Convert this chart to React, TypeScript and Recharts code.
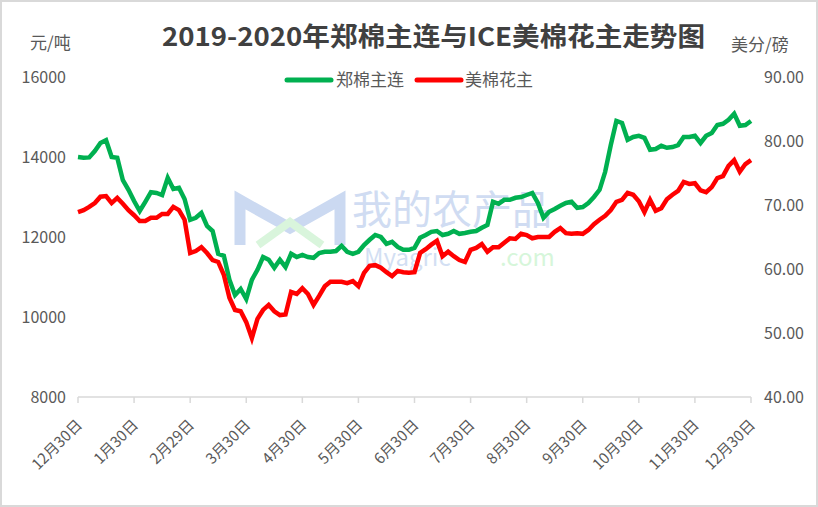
import React from 'react';
import { LineChart, Line, XAxis, YAxis } from 'recharts';

// tick labels (one every 10 points)
const monthLabels = [
  '12月30日', '1月30日', '2月29日', '3月30日', '4月30日', '5月30日', '6月30日',
  '7月30日', '8月30日', '9月30日', '10月30日', '11月30日', '12月30日',
];
const tickIndex = [0, 10, 20, 30, 40, 50, 60, 70, 80, 90, 100, 110, 120];

// 郑棉主连 (元/吨)
const zzValues = [
  14000, 13980, 13990, 14150, 14350, 14420, 14000, 13980, 13420, 13180,
  12900, 12650, 12880, 13120, 13100, 13050, 13480, 13200, 13230, 12950,
  12430, 12480, 12600, 12280, 12150, 11580, 11530, 10930, 10550, 10700,
  10450, 10930, 11180, 11500, 11430, 11230, 11430, 11250, 11580, 11500,
  11550, 11500, 11480, 11600, 11630, 11630, 11650, 11780, 11630, 11580,
  11630, 11800, 11930, 12050, 12000, 11830, 11880, 11750, 11680, 11680,
  11730, 11980, 12050, 12130, 12150, 12050, 12080, 12150, 12080, 12100,
  12130, 12150, 12230, 12300, 12880, 12830, 12930, 12930, 12980, 13000,
  13050, 13100, 12850, 12480, 12630, 12700, 12780, 12850, 12880, 12730,
  12750, 12850, 13000, 13180, 13630, 14300, 14900, 14850, 14430, 14500,
  14530, 14480, 14180, 14200, 14280, 14230, 14250, 14300, 14500, 14500,
  14530, 14350, 14530, 14600, 14800, 14830, 14930, 15080, 14780, 14800,
  14900,
];

// 美棉花主 (美分/磅)
const iceValues = [
  68.9, 69.2, 69.7, 70.3, 71.3, 71.4, 70.3, 71.1, 70.2, 69.2,
  68.4, 67.5, 67.5, 68.0, 68.0, 68.6, 68.6, 69.7, 69.2, 67.7,
  62.5, 62.8, 63.4, 62.5, 61.4, 61.1, 59.1, 55.5, 53.6, 53.4,
  51.7, 49.2, 52.2, 53.6, 54.4, 53.4, 52.8, 52.9, 56.4, 56.1,
  57.0, 56.1, 54.4, 55.8, 57.3, 58.0, 58.0, 58.0, 57.8, 58.1,
  57.3, 59.4, 60.5, 60.6, 60.2, 59.5, 58.9, 59.7, 59.5, 59.4,
  59.5, 62.5, 63.1, 63.8, 64.4, 62.0, 62.7, 62.0, 61.4, 61.1,
  63.0, 63.3, 63.9, 62.7, 63.4, 63.4, 64.1, 64.8, 64.7, 65.5,
  65.3, 64.8, 65.0, 65.0, 65.0, 65.8, 66.4, 65.6, 65.5, 65.6,
  65.5, 66.1, 67.0, 67.7, 68.3, 69.2, 70.5, 70.8, 71.9, 71.6,
  70.6, 68.9, 70.8, 69.1, 69.5, 70.9, 71.6, 72.2, 73.6, 73.3,
  73.4, 72.3, 72.0, 72.8, 74.2, 74.5, 76.1, 77.0, 75.2, 76.4,
  77.0,
];

const leftTicks = [8000, 10000, 12000, 14000, 16000];
const rightTicks = [40, 50, 60, 70, 80, 90];

const data = zzValues.map((v, i) => ({ i, zz: v, ice: iceValues[i] }));

const FONT = '"Noto Sans CJK SC", "Noto Sans", sans-serif';
const TEXT = '#595959';

const DateTick = (props: any) => {
  const { x, y, payload } = props;
  const label = monthLabels[Math.round(payload.value / 10)];
  return (
    <g transform={`translate(${x + 5},${y + 21})`}>
      <text textAnchor="end" transform="rotate(-45)" fill={TEXT} fontSize={15} fontFamily={FONT}>
        {label}
      </text>
    </g>
  );
};

// faint site watermark behind the lines
const Watermark = () => (
  <svg width={818} height={507} style={{ position: 'absolute', left: 0, top: 0 }}>
    <polyline points="240,245 240,200 290,228 340,200 340,245" fill="none" stroke="#cbd9f1" strokeWidth={11} />
    <polyline points="258,245 290,222 322,245" fill="none" stroke="#d9f5dc" strokeWidth={8} />
    <text x={352} y={224} fontSize={40} fill="#d0dcf2" fontFamily={FONT}>我的农产品</text>
    <text x={364} y={266} fontSize={24} fill="#d3dff3" fontFamily={FONT}>Myagric</text>
    <text x={500} y={266} fontSize={24} fill="#d6f6da" fontFamily={FONT}>.com</text>
  </svg>
);

export default function App() {
  return (
    <div style={{ position: 'absolute', left: 0, top: 0, width: 818, height: 507, background: '#fff', fontFamily: FONT }}>
      <Watermark />
      <div style={{ position: 'absolute', left: 0, top: 0 }}>
        <LineChart width={818} height={507} data={data} margin={{ top: 77, right: 7, bottom: 50, left: 18 }}>
          <XAxis
            dataKey="i"
            type="number"
            domain={[0, 120]}
            ticks={tickIndex}
            interval={0}
            tick={<DateTick />}
            height={60}
            stroke="#d9d9d9"
            strokeWidth={1.5}
            tickSize={6}
          />
          <YAxis
            yAxisId="left"
            domain={[8000, 16000]}
            ticks={leftTicks}
            axisLine={false}
            tickLine={false}
            tickSize={0}
            tickMargin={12}
            width={60}
            tick={{ fill: TEXT, fontSize: 16, fontFamily: FONT }}
          />
          <YAxis
            yAxisId="right"
            orientation="right"
            domain={[40, 90]}
            ticks={rightTicks}
            axisLine={false}
            tickLine={false}
            tickSize={0}
            tickMargin={13}
            width={60}
            tickFormatter={(v: number) => v.toFixed(2)}
            tick={{ fill: TEXT, fontSize: 16, fontFamily: FONT }}
          />
          <Line yAxisId="left" type="linear" dataKey="zz" stroke="#00b050" strokeWidth={4.5} dot={false} isAnimationActive={false} />
          <Line yAxisId="right" type="linear" dataKey="ice" stroke="#ff0000" strokeWidth={4.5} dot={false} isAnimationActive={false} />
        </LineChart>
      </div>
      <svg width={818} height={110} style={{ position: 'absolute', left: 0, top: 0 }}>
        <text x={162} y={46} fontSize={26} fontWeight={700} fill="#404040" fontFamily={FONT} textLength={543} lengthAdjust="spacingAndGlyphs">
          2019-2020年郑棉主连与ICE美棉花主走势图
        </text>
        <text x={30} y={49} fontSize={17} fill={TEXT} fontFamily={FONT}>元/吨</text>
        <text x={731} y={51} fontSize={17} fill={TEXT} fontFamily={FONT}>美分/磅</text>
        <line x1={287} y1={80} x2={331} y2={80} stroke="#00b050" strokeWidth={5} strokeLinecap="round" />
        <text x={336} y={86} fontSize={17} fill={TEXT} fontFamily={FONT}>郑棉主连</text>
        <line x1={417} y1={80} x2={461} y2={80} stroke="#ff0000" strokeWidth={5} strokeLinecap="round" />
        <text x={465} y={86} fontSize={17} fill={TEXT} fontFamily={FONT}>美棉花主</text>
      </svg>
      <div style={{ position: 'absolute', left: 0, top: 0, width: 818, height: 507, boxSizing: 'border-box', border: '2px solid #d9d9d9', pointerEvents: 'none' }} />
    </div>
  );
}
